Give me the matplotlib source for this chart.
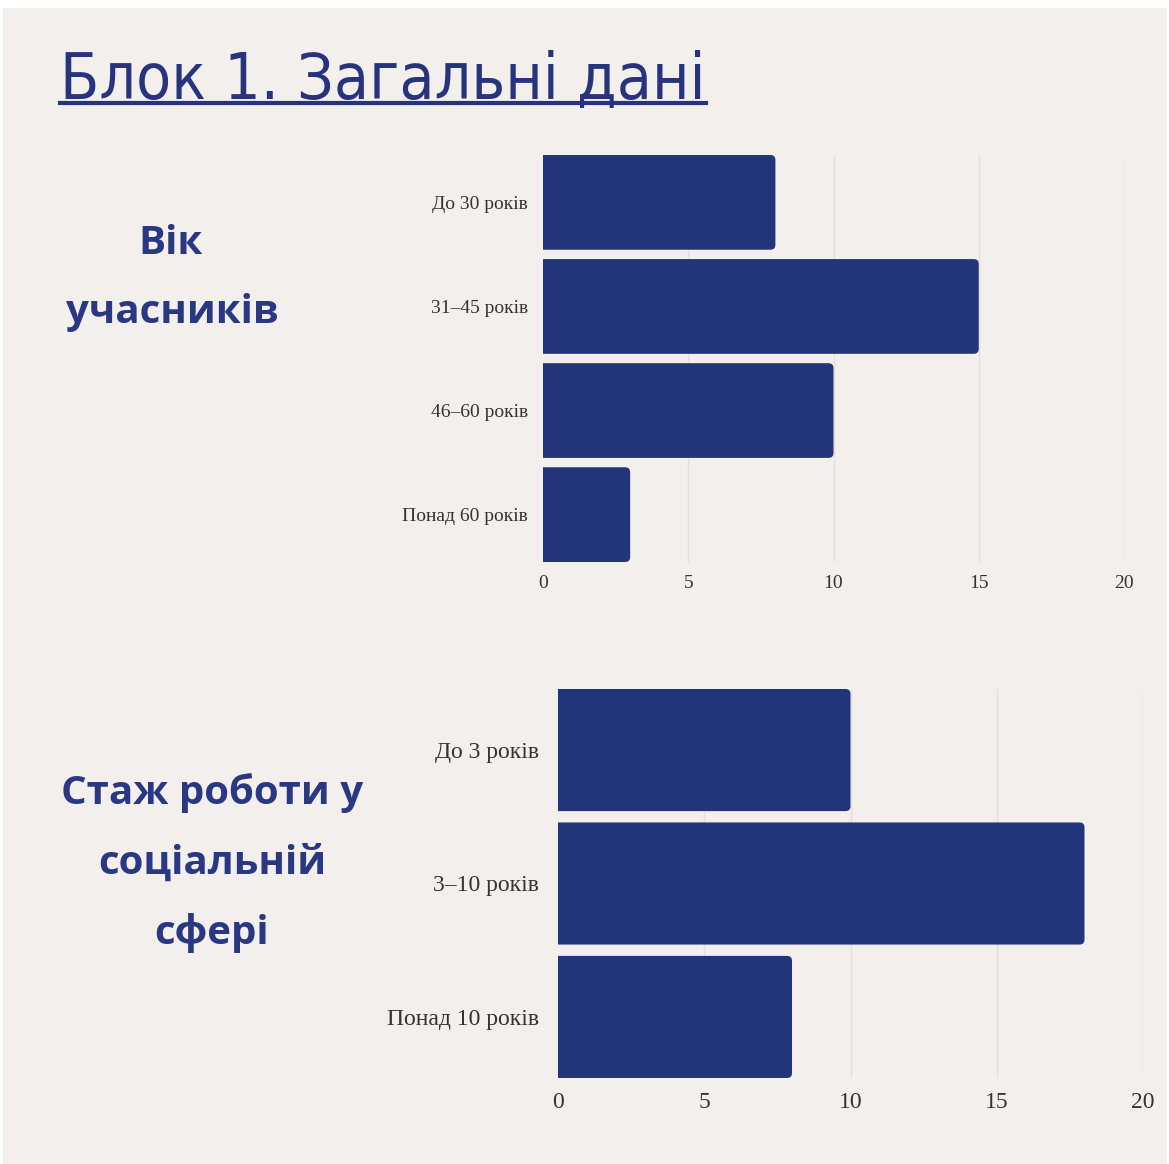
import matplotlib
matplotlib.use("Agg")
import matplotlib.pyplot as plt
from matplotlib.patches import FancyBboxPatch, Rectangle
from matplotlib.lines import Line2D

# age groups
age_labels = ["До 30 років", "31–45 років", "46–60 років", "Понад 60 років"]
age_counts = [8, 15, 10, 3]

# work experience in social sphere
exp_labels = ["До 3 років", "3–10 років", "Понад 10 років"]
exp_counts = [10, 18, 8]

x_ticks = [0, 5, 10, 15, 20]

BG = "#F2EFEC"
NAVY = "#22357A"
TITLE_C = "#27337D"
W, H = 1169, 1164

fig = plt.figure(figsize=(W / 100, H / 100), dpi=100, facecolor="white")
fig.add_artist(Rectangle((3 / W, 0), (W - 5) / W, (H - 8) / H,
                         transform=fig.transFigure, facecolor=BG,
                         edgecolor="none", zorder=0))


def rounded_bars(ax, labels, values, box_px, bar_h, fs, xpad, ypad, radius_px=5):
    n = len(values)
    ax.set_xlim(0, 20)
    ax.set_ylim(n - 1 + bar_h / 2, -bar_h / 2)
    ax.set_facecolor("none")
    for s in ax.spines.values():
        s.set_visible(False)
    for t in x_ticks[1:]:
        ax.axvline(t, color="#E4E0DC", lw=1, zorder=0)
    xpp = 20 / box_px[0]
    ypp = (n - 1 + bar_h) / box_px[1]
    r = radius_px * xpp
    for i, v in enumerate(values):
        # start left of the axis so the clipped left corners stay square
        ax.add_patch(FancyBboxPatch((-1, i - bar_h / 2), v + 1, bar_h,
                                    boxstyle="round,pad=0,rounding_size=%f" % r,
                                    mutation_aspect=ypp / xpp,
                                    facecolor=NAVY, edgecolor="none", zorder=2))
    ax.set_yticks(range(n))
    ax.set_yticklabels(labels)
    ax.set_xticks(x_ticks)
    ax.tick_params(length=0, labelsize=fs, labelcolor="#333333")
    ax.tick_params(axis="y", pad=ypad)
    ax.tick_params(axis="x", pad=xpad)
    for lab in ax.get_xticklabels() + ax.get_yticklabels():
        lab.set_family("Liberation Serif")


ax1 = fig.add_axes([543 / W, 1 - 562 / H, 581 / W, 407 / H])
rounded_bars(ax1, age_labels, age_counts, (581, 407), 0.91, 14, 9, 11)

ax2 = fig.add_axes([558 / W, 1 - 1078 / H, 585 / W, 389 / H])
rounded_bars(ax2, exp_labels, exp_counts, (585, 389), 0.915, 17, 10, 14)

title = fig.text(60 / W, 1 - 99 / H, "Блок 1. Загальні дані",
                 family="DejaVu Sans", fontstretch="condensed",
                 fontsize=46, color=TITLE_C, ha="left", va="baseline")
fig.canvas.draw()
bb = title.get_window_extent()
fig.add_artist(Line2D([bb.x0 / W, bb.x1 / W], [1 - 103 / H, 1 - 103 / H],
                      transform=fig.transFigure, color=TITLE_C, lw=3))

side_kw = dict(family=["Open Sans", "DejaVu Sans"], fontweight="bold",
               fontsize=29, color="#2A3883", ha="center", va="center")
fig.text(170 / W, 1 - 243 / H, "Вік", **side_kw)
fig.text(172 / W, 1 - 313 / H, "учасників", **side_kw)
fig.text(212 / W, 1 - 793 / H, "Стаж роботи у", **side_kw)
fig.text(212 / W, 1 - 863 / H, "соціальній", **side_kw)
fig.text(212 / W, 1 - 933 / H, "сфері", **side_kw)

fig.savefig("out.png", dpi=100, facecolor="white")
